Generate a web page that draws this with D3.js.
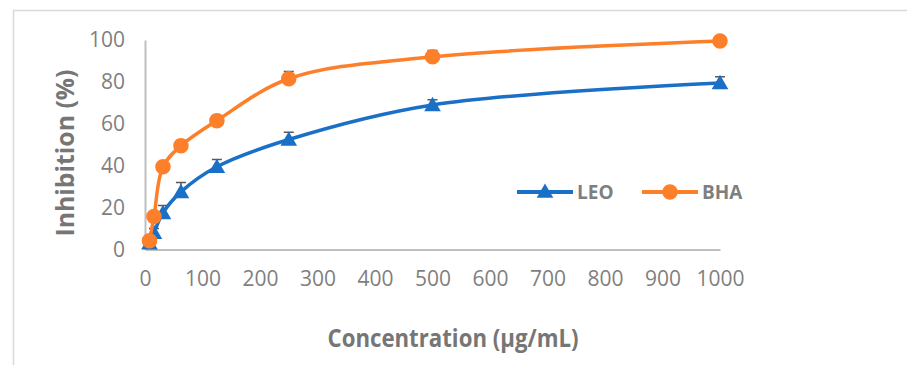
<!DOCTYPE html>
<html>
<head>
<meta charset="utf-8">
<script src="https://cdn.jsdelivr.net/npm/d3@7"></script>
<style>
  body { margin: 0; background: #fff; }
  text { font-family: "Open Sans", "Noto Sans", sans-serif; }
</style>
</head>
<body>
<svg class="chart"></svg>
<script>
// concentrations (µg/mL)
var conc = [7.8, 15.6, 31.25, 62.5, 125, 250, 500, 1000];
var leo = [3, 8, 17.5, 27.5, 39.5, 52.5, 69, 79.5];
var leoErr = [1, 2, 3.5, 4.5, 3.5, 3.5, 2.5, 3];
var bha = [4.2, 15.7, 39.5, 49.5, 61.5, 81.5, 92, 99.5];
var bhaErr = [1, 1, 1.5, 2.5, 2.5, 3.5, 3, 0.5];
var xticks = [0, 100, 200, 300, 400, 500, 600, 700, 800, 900, 1000];
var yticks = [0, 20, 40, 60, 80, 100];
var seriesNames = ['LEO', 'BHA'];

var svgwidth = 907, svgheight = 365;
var svg = d3.select('.chart').attr('width', svgwidth).attr('height', svgheight);

var margins = {top: 40, bottom: 116, left: 145, right: 187};
var xscale = d3.scaleLinear().domain([0, 1000]).range([margins.left, svgwidth - margins.right]);
var yscale = d3.scaleLinear().domain([0, 100]).range([svgheight - margins.bottom + 0.5, margins.top]);

var blue = '#1a6fc6', orange = '#fd7f2a', grey = '#7f7f7f';

// outer frame (top and left only)
svg.append('path')
   .attr('d', 'M13.5,365 V10.5 H907')
   .attr('fill', 'none')
   .attr('stroke', '#d9d9d9')
   .attr('stroke-width', 1.5);

// axes
var xaxis = d3.axisBottom(xscale).tickValues(xticks).tickFormat(d3.format('d')).tickSize(0).tickPadding(22);
var yaxis = d3.axisLeft(yscale).tickValues(yticks).tickFormat(d3.format('d')).tickSize(0).tickPadding(20);

var gx = svg.append('g').attr('transform', 'translate(0,' + yscale(0) + ')').call(xaxis);
var gy = svg.append('g').attr('transform', 'translate(' + xscale(0) + ',0)').call(yaxis);

[gx, gy].forEach(function(g){
  g.select('.domain').attr('stroke', '#bfbfbf').attr('stroke-width', 2);
  g.selectAll('text').style('font-size', '21px').attr('fill', grey);
});

// titles
svg.append('text')
   .attr('x', 453).attr('y', 347)
   .attr('text-anchor', 'middle')
   .attr('textLength', 251).attr('lengthAdjust', 'spacingAndGlyphs')
   .style('font-size', '25px').style('font-weight', 'bold')
   .attr('fill', '#767676')
   .text('Concentration (µg/mL)');

svg.append('text')
   .attr('transform', 'translate(74,153) rotate(-90)')
   .attr('text-anchor', 'middle')
   .attr('textLength', 167).attr('lengthAdjust', 'spacingAndGlyphs')
   .style('font-size', '25px').style('font-weight', 'bold')
   .attr('fill', '#767676')
   .text('Inhibition (%)');

var linegen = d3.line()
  .x(function(d){ return xscale(d.x); })
  .y(function(d){ return yscale(d.y); })
  .curve(d3.curveCatmullRom.alpha(0.5));

var makeseries = function(vals, errs, color, shape){
  var pts = conc.map(function(c, i){ return {x: c, y: vals[i], e: errs[i]}; });
  var g = svg.append('g');

  // error bars (plus side)
  g.selectAll('.err').data(pts).enter().append('path')
   .attr('d', function(d){
     var x = xscale(d.x), y0 = yscale(d.y), y1 = yscale(d.y + d.e);
     return 'M' + x + ',' + y0 + 'V' + y1 + 'M' + (x - 5) + ',' + y1 + 'H' + (x + 5);
   })
   .attr('stroke', '#595959')
   .attr('stroke-width', 1.5)
   .attr('fill', 'none');

  g.append('path')
   .attr('d', linegen(pts))
   .attr('fill', 'none')
   .attr('stroke', color)
   .attr('stroke-width', 3.5);

  g.selectAll('.mark').data(pts).enter().append('path')
   .attr('d', d3.symbol().type(shape).size(shape === d3.symbolCircle ? 190 : 120))
   .attr('transform', function(d){
     return 'translate(' + xscale(d.x) + ',' + (yscale(d.y) + (shape === d3.symbolCircle ? 0 : 1.5)) + ')';
   })
   .attr('fill', color);
};

makeseries(leo, leoErr, blue, d3.symbolTriangle);
makeseries(bha, bhaErr, orange, d3.symbolCircle);

// legend
var legend = svg.append('g').attr('transform', 'translate(517,192)');
var legendItems = [
  {name: seriesNames[0], color: blue, shape: d3.symbolTriangle, dx: 0},
  {name: seriesNames[1], color: orange, shape: d3.symbolCircle, dx: 125}
];
legendItems.forEach(function(it){
  var lg = legend.append('g').attr('transform', 'translate(' + it.dx + ',0)');
  lg.append('line').attr('x1', 0).attr('x2', 56).attr('y1', 0).attr('y2', 0)
    .attr('stroke', it.color).attr('stroke-width', 4);
  lg.append('path')
    .attr('d', d3.symbol().type(it.shape).size(it.shape === d3.symbolCircle ? 190 : 120))
    .attr('transform', 'translate(28,' + (it.shape === d3.symbolCircle ? 0 : 1) + ')')
    .attr('fill', it.color);
  lg.append('text').attr('x', 60).attr('y', 7)
    .style('font-size', '19px').style('font-weight', 'bold')
    .attr('fill', grey)
    .text(it.name);
});
</script>
</body>
</html>
